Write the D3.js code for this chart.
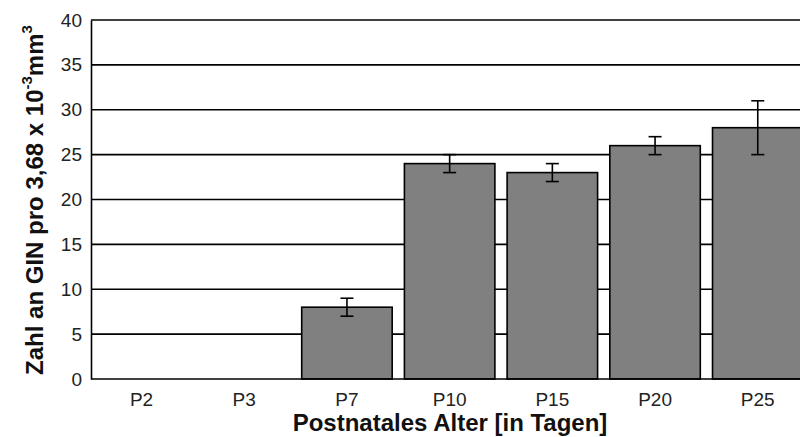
<!DOCTYPE html>
<html><head><meta charset="utf-8">
<script src="https://cdn.jsdelivr.net/npm/d3@7"></script>
<style>body{margin:0;background:#fff}svg{display:block}text{font-family:Arial,"Liberation Sans",sans-serif}</style>
</head><body>
<svg id="c" width="800" height="437"></svg>
<script>
const categories = ["P2","P3","P7","P10","P15","P20","P25"];
const values = [0,0,8,24,23,26,28];
const errLow = [null,null,7,23,22,25,25];
const errHigh = [null,null,9,25,24,27,31];
const yTicks = [0,5,10,15,20,25,30,35,40];

(function(){
const svg = d3.select("#c");
const mLeft = 91, mTop = 20, mBottom = 379, mRight = 808.3;
const x = d3.scaleBand().domain(categories).range([mLeft, mRight]).paddingInner(0.119).paddingOuter(0.0516);
const y = d3.scaleLinear().domain([0,40]).range([mBottom, mTop]);

// gridlines
svg.append("g").selectAll("line").data(yTicks.filter(d=>d>0)).join("line")
  .attr("x1", mLeft).attr("x2", 800).attr("y1", d=>y(d)).attr("y2", d=>y(d))
  .attr("stroke","#000").attr("stroke-width",1.6);

// bars
const data = categories.map((c,i)=>({c, v:values[i], lo:errLow[i], hi:errHigh[i]}));
svg.append("g").selectAll("rect").data(data.filter(d=>d.v>0)).join("rect")
  .attr("x", d=>x(d.c)).attr("width", x.bandwidth())
  .attr("y", d=>y(d.v)).attr("height", d=>y(0)-y(d.v))
  .attr("fill","#808080").attr("stroke","#000").attr("stroke-width",1.6);

// error bars
const eb = svg.append("g").attr("stroke","#000").attr("stroke-width",1.6);
data.filter(d=>d.lo!=null).forEach(d=>{
  const cx = x(d.c)+x.bandwidth()/2;
  eb.append("line").attr("x1",cx).attr("x2",cx).attr("y1",y(d.lo)).attr("y2",y(d.hi));
  eb.append("line").attr("x1",cx-6.5).attr("x2",cx+6.5).attr("y1",y(d.lo)).attr("y2",y(d.lo));
  eb.append("line").attr("x1",cx-6.5).attr("x2",cx+6.5).attr("y1",y(d.hi)).attr("y2",y(d.hi));
});

// y axis
const ya = svg.append("g").attr("transform",`translate(${mLeft},0)`)
  .call(d3.axisLeft(y).tickValues(yTicks).tickSize(0).tickPadding(9));
ya.select(".domain").attr("stroke","#000").attr("stroke-width",1.6);
ya.selectAll("text").attr("font-size",19).attr("fill","#222");

// x axis
const xa = svg.append("g").attr("transform",`translate(0,${mBottom})`)
  .call(d3.axisBottom(x).tickSize(0).tickPadding(0));
xa.select(".domain").attr("d",`M${mLeft},0H800`).attr("stroke","#000").attr("stroke-width",1.6);
xa.selectAll("text").attr("dy",null).attr("y",27).attr("font-size",19).attr("fill","#222");

// labels
svg.append("text").attr("x",450).attr("y",431).attr("text-anchor","middle")
  .attr("font-size",24).attr("font-weight","bold").attr("fill","#111").text("Postnatales Alter [in Tagen]");

const yl = svg.append("text").attr("transform","translate(43,200) rotate(-90)")
  .attr("text-anchor","middle").attr("font-size",24).attr("font-weight","bold").attr("fill","#111");
yl.append("tspan").text("Zahl an GIN pro 3,68 x 10");
yl.append("tspan").attr("dy",-11).attr("font-size",15).text("-3");
yl.append("tspan").attr("dy",11).text("mm");
yl.append("tspan").attr("dy",-11).attr("font-size",15).text("3");
})();
</script>
</body></html>
